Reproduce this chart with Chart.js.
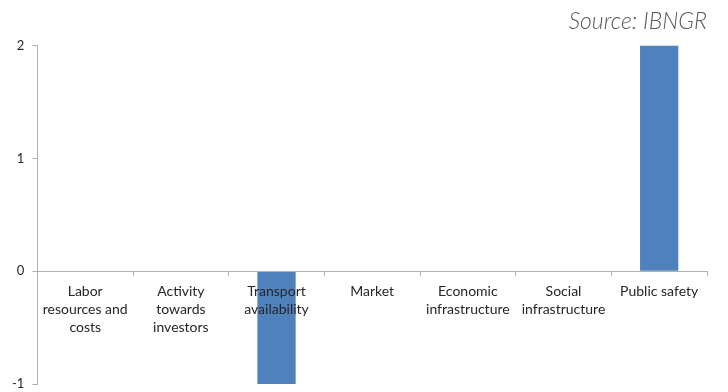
<!DOCTYPE html>
<html>
<head>
<meta charset="utf-8">
<script src="https://cdn.jsdelivr.net/npm/chart.js@4"></script>
<style>
  html, body { margin: 0; padding: 0; background: #ffffff; }
  #wrap { width: 728px; height: 392px; }
</style>
</head>
<body>
<div id="wrap"><canvas id="c" width="728" height="392"></canvas></div>
<script>
// Factor categories, wrapped onto lines as printed under the axis
const categories = [
  ['Labor', 'resources and', 'costs'],
  ['Activity', 'towards', 'investors'],
  ['Transport', 'availability'],
  ['Market'],
  ['Economic', 'infrastructure'],
  ['Social', 'infrastructure'],
  ['Public safety']
];
const scores = [0, 0, -1, 0, 0, 0, 2];
const yTicks = [-1, 0, 1, 2];
const sourceNote = 'Source: IBNGR';

const axisGray = '#b0b0b0';
const labelFont = { family: 'Lato, "Open Sans", sans-serif', size: 14, lineHeight: 1.3 };

new Chart(document.getElementById('c'), {
  type: 'bar',
  data: {
    labels: categories,
    datasets: [{
      data: scores,
      backgroundColor: '#4f81bd',
      borderWidth: 0,
      categoryPercentage: 1,
      barPercentage: 0.4
    }]
  },
  options: {
    responsive: false,
    animation: false,
    layout: { padding: { left: 4, right: 21, top: 0, bottom: 8 } },
    plugins: {
      legend: { display: false },
      tooltip: { enabled: false },
      title: {
        display: true,
        text: sourceNote,
        align: 'end',
        color: '#595959',
        font: { family: 'Lato, "Open Sans", sans-serif', size: 23, style: 'italic', weight: 300, lineHeight: 1.2 },
        padding: { top: 8, bottom: 10 }
      }
    },
    scales: {
      x: {
        position: { y: 0 },
        offset: true,
        grid: {
          offset: true,
          drawOnChartArea: false,
          drawTicks: true,
          tickLength: 4,
          color: axisGray,
          z: 1
        },
        border: { color: axisGray, width: 1, z: 1 },
        ticks: {
          color: '#262626',
          font: labelFont,
          padding: 7,
          maxRotation: 0,
          autoSkip: false,
          z: 1
        }
      },
      y: {
        min: -1,
        max: 2,
        afterBuildTicks: (scale) => { scale.ticks = yTicks.map(v => ({ value: v })); },
        // let the lowest tick label hang past the plot edge
        afterFit: (scale) => { scale.paddingBottom = 0; },
        grid: {
          drawOnChartArea: false,
          drawTicks: true,
          tickLength: 5,
          color: axisGray
        },
        border: { color: axisGray, width: 1 },
        ticks: {
          color: '#262626',
          font: { family: 'Lato, "Open Sans", sans-serif', size: 13 },
          padding: 8
        }
      }
    }
  }
});
</script>
</body>
</html>
